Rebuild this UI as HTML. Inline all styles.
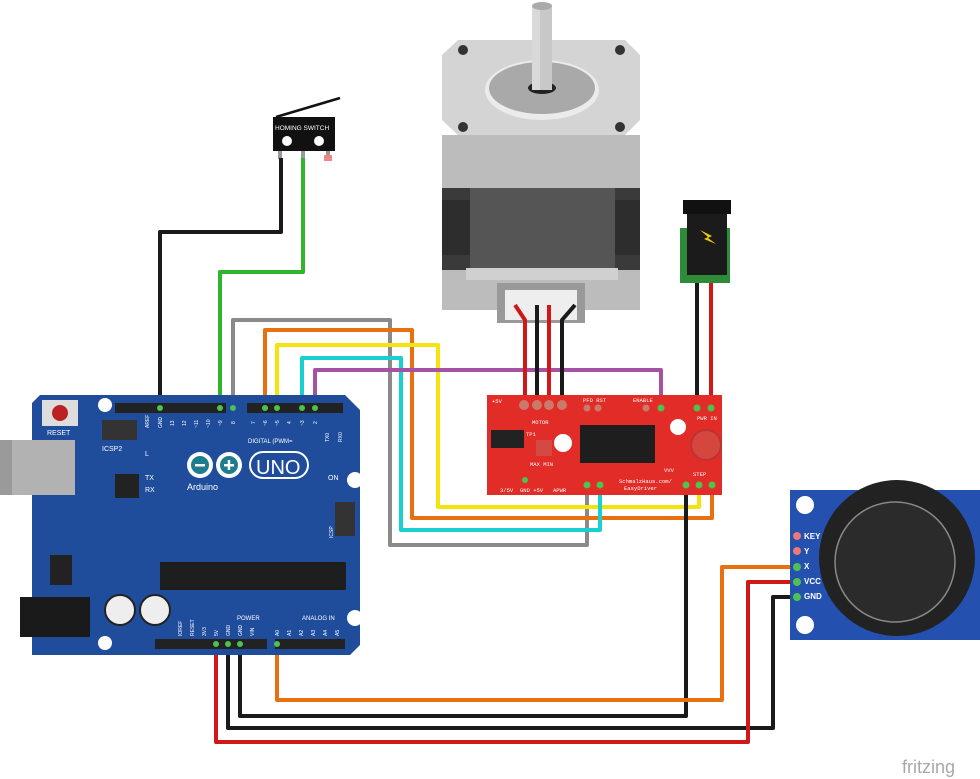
<!DOCTYPE html>
<html><head><meta charset="utf-8"><style>
body{margin:0;background:#fff;}
svg{display:block;font-family:"Liberation Sans",sans-serif;}
</style></head><body>
<svg width="980" height="779" viewBox="0 0 980 779" xmlns="http://www.w3.org/2000/svg">
<!-- Stepper motor -->
<g>
<path d="M458,40 L625,40 L640,55 L640,120 L625,135 L458,135 L442,120 L442,55Z" fill="#d4d4d4"/>
<path d="M442,135 L640,135 L640,310 L442,310Z" fill="#bcbcbc"/>
<rect x="442" y="188" width="198" height="82" fill="#3a3a3a"/>
<rect x="470" y="188" width="145" height="80" fill="#555"/>
<rect x="442" y="200" width="28" height="55" fill="#2d2d2d"/>
<rect x="615" y="200" width="25" height="55" fill="#2d2d2d"/>
<rect x="466" y="268" width="152" height="12" fill="#d0d0d0"/>
<ellipse cx="542" cy="90" rx="57" ry="30" fill="#ebebeb"/>
<ellipse cx="542" cy="88" rx="53" ry="26" fill="#a9a9a9"/>
<ellipse cx="542" cy="88" rx="14" ry="6" fill="#222"/>
<rect x="532" y="5" width="20" height="85" fill="#c8c8c8"/>
<rect x="532" y="5" width="8" height="85" fill="#d9d9d9"/>
<ellipse cx="542" cy="6" rx="10" ry="4" fill="#aaa"/>
<circle cx="463" cy="50" r="5" fill="#333"/><circle cx="620" cy="50" r="5" fill="#333"/>
<circle cx="463" cy="127" r="5" fill="#333"/><circle cx="620" cy="127" r="5" fill="#333"/>
<rect x="497" y="283" width="88" height="40" fill="#999"/>
<rect x="505" y="290" width="72" height="30" fill="#eee"/>
</g>
<!-- Switch -->
<rect x="273" y="117" width="62" height="34" fill="#111"/>
<line x1="276" y1="117" x2="340" y2="98" stroke="#111" stroke-width="2.5"/>
<text x="275" y="130" font-size="6.5" fill="#fff">HOMING SWITCH</text>
<circle cx="287" cy="141" r="5" fill="#fff"/><circle cx="319" cy="141" r="5" fill="#fff"/>
<rect x="278" y="151" width="4" height="8" fill="#999"/><rect x="301" y="151" width="4" height="8" fill="#999"/><rect x="326" y="151" width="4" height="8" fill="#999"/>
<rect x="324" y="155" width="8" height="6" fill="#e88"/>
<!-- Power jack -->
<rect x="680" y="228" width="50" height="55" fill="#2e8b3a"/>
<rect x="687" y="200" width="40" height="75" fill="#1b1b1b"/>
<rect x="683" y="200" width="48" height="14" fill="#111"/>
<path d="M700,230 L712,236 L708,238 L716,244 L704,239 L708,237Z" fill="#f2c811"/>
<!-- wires -->
<g fill="none" stroke-width="4" stroke-linejoin="round">
<polyline points="281,158 281,232 160,232 160,408" stroke="#1a1a1a"/>
<polyline points="303,158 303,272 220,272 220,408" stroke="#2fb52f"/>
<polyline points="233,408 233,320 390,320 390,545 587,545 587,488" stroke="#8a8a8a"/>
<polyline points="265,408 265,330 412,330 412,518 712,518 712,488" stroke="#e8700f"/>
<polyline points="277,408 277,345 438,345 438,507 699,507 699,488" stroke="#f5e30e"/>
<polyline points="302,408 302,358 401,358 401,530 600,530 600,488" stroke="#19d0d0"/>
<polyline points="315,408 315,370 661,370 661,405" stroke="#a552a5"/>
<polyline points="686,488 686,716 240,716 240,646" stroke="#1a1a1a"/>
<polyline points="797,597 773,597 773,728 228,728 228,646" stroke="#1a1a1a"/>
<polyline points="797,582 748,582 748,742 216,742 216,646" stroke="#d01818"/>
<polyline points="797,567 722,567 722,700 277,700 277,646" stroke="#e8700f"/>
<polyline points="515,305 525,320 525,405" stroke="#d01818"/>
<polyline points="537,305 537,405" stroke="#1a1a1a"/>
<polyline points="549,305 549,405" stroke="#d01818"/>
<polyline points="575,305 562,320 562,405" stroke="#1a1a1a"/>
<polyline points="697,283 697,405" stroke="#1a1a1a"/>
<polyline points="711,283 711,405" stroke="#d01818"/>
</g>
<!-- EasyDriver -->
<rect x="487" y="395" width="235" height="100" fill="#e22c27"/>
<g fill="#c97a6a"><circle cx="524" cy="405" r="5"/><circle cx="537" cy="405" r="5"/><circle cx="549" cy="405" r="5"/><circle cx="562" cy="405" r="5"/><circle cx="587" cy="408" r="3.5"/><circle cx="598" cy="408" r="3.5"/><circle cx="646" cy="408" r="3.5"/></g>
<g fill="#4ec24e"><circle cx="661" cy="408" r="3.5"/><circle cx="697" cy="408" r="3.5"/><circle cx="711" cy="408" r="3.5"/><circle cx="587" cy="485" r="3.5"/><circle cx="600" cy="485" r="3.5"/><circle cx="686" cy="485" r="3.5"/><circle cx="699" cy="485" r="3.5"/><circle cx="712" cy="485" r="3.5"/><circle cx="525" cy="480" r="3"/></g>
<rect x="491" y="430" width="33" height="18" fill="#222"/>
<rect x="580" y="425" width="75" height="38" fill="#1e1e1e"/>
<circle cx="563" cy="443" r="9" fill="#fff"/><circle cx="678" cy="427" r="8" fill="#fff"/>
<circle cx="706" cy="445" r="15" fill="#d5463f" stroke="#b33" stroke-width="2"/>
<rect x="536" y="440" width="16" height="16" fill="#d44a43"/>
<g font-size="5.5" fill="#fff" font-family="Liberation Mono,monospace">
<text x="532" y="424">MOTOR</text><text x="526" y="436">TP1</text><text x="583" y="402">PFD RST</text><text x="633" y="402">ENABLE</text>
<text x="697" y="420">PWR IN</text><text x="619" y="483">SchmalzHaus.com/</text><text x="624" y="490">EasyDriver</text><text x="693" y="476">STEP</text>
<text x="492" y="403">+5V</text><text x="500" y="492">3/5V</text><text x="520" y="492">GND +5V</text><text x="553" y="492">APWR</text>
<text x="530" y="466">MAX MIN</text><text x="664" y="472">VVV</text>
</g>
<!-- Arduino -->
<path d="M40,395 L345,395 L360,410 L360,645 L350,655 L32,655 L32,403Z" fill="#1f4d9c"/>
<rect x="0" y="440" width="75" height="55" fill="#b2b2b2"/><rect x="0" y="440" width="12" height="55" fill="#9a9a9a"/>
<rect x="42" y="400" width="36" height="26" fill="#ddd"/><circle cx="60" cy="413" r="8" fill="#b22"/>
<text x="47" y="435" font-size="7" fill="#fff">RESET</text>
<rect x="115" y="403" width="111" height="10" fill="#222"/><rect x="247" y="403" width="96" height="10" fill="#222"/>
<rect x="155" y="639" width="112" height="10" fill="#222"/><rect x="275" y="639" width="70" height="10" fill="#222"/>
<rect x="102" y="420" width="35" height="20" fill="#333"/>
<text x="102" y="451" font-size="7" fill="#fff">ICSP2</text>
<rect x="115" y="474" width="24" height="24" fill="#222"/>
<rect x="160" y="562" width="186" height="28" fill="#1e1e1e"/>
<rect x="335" y="502" width="20" height="34" fill="#333"/>
<rect x="50" y="555" width="22" height="30" fill="#222"/>
<rect x="20" y="597" width="70" height="40" fill="#1a1a1a"/>
<circle cx="120" cy="610" r="15" fill="#eee" stroke="#222" stroke-width="2"/>
<circle cx="155" cy="610" r="15" fill="#eee" stroke="#222" stroke-width="2"/>
<circle cx="105" cy="405" r="7" fill="#fff"/><circle cx="355" cy="480" r="8" fill="#fff"/><circle cx="355" cy="618" r="8" fill="#fff"/><circle cx="105" cy="643" r="7" fill="#fff"/>
<circle cx="200" cy="465" r="13" fill="#fff"/><circle cx="229" cy="465" r="13" fill="#fff"/>
<circle cx="200" cy="465" r="9" fill="#1d7d8e"/><circle cx="229" cy="465" r="9" fill="#1d7d8e"/>
<rect x="195" y="464" width="10" height="2.5" fill="#fff"/><rect x="224" y="464" width="10" height="2.5" fill="#fff"/><rect x="227.7" y="460" width="2.5" height="10" fill="#fff"/>
<rect x="250" y="452" width="58" height="26" rx="13" fill="none" stroke="#fff" stroke-width="2"/>
<text x="256" y="474" font-size="20" fill="#fff">UNO</text>
<text x="187" y="490" font-size="9" fill="#fff">Arduino</text>
<text x="248" y="443" font-size="6" fill="#fff">DIGITAL (PWM=</text>
<text x="145" y="456" font-size="7" fill="#fff">L</text><text x="145" y="480" font-size="7" fill="#fff">TX</text><text x="145" y="492" font-size="7" fill="#fff">RX</text>
<text x="328" y="480" font-size="7" fill="#fff">ON</text>
<text x="237" y="620" font-size="6" fill="#fff">POWER</text><text x="302" y="620" font-size="6" fill="#fff">ANALOG IN</text>
<g font-size="5" fill="#fff">
<text transform="translate(149,428) rotate(-90)">AREF</text><text transform="translate(162,428) rotate(-90)">GND</text>
<text transform="translate(174,426) rotate(-90)">13</text><text transform="translate(186,426) rotate(-90)">12</text>
<text transform="translate(198,428) rotate(-90)">~11</text><text transform="translate(210,428) rotate(-90)">~10</text>
<text transform="translate(222,426) rotate(-90)">~9</text><text transform="translate(235,424) rotate(-90)">8</text>
<text transform="translate(255,424) rotate(-90)">7</text><text transform="translate(267,426) rotate(-90)">~6</text>
<text transform="translate(279,426) rotate(-90)">~5</text><text transform="translate(291,424) rotate(-90)">4</text>
<text transform="translate(304,426) rotate(-90)">~3</text><text transform="translate(317,424) rotate(-90)">2</text>
<text transform="translate(329,442) rotate(-90)">TX0</text><text transform="translate(342,442) rotate(-90)">RX0</text>
<text transform="translate(182,636) rotate(-90)">IOREF</text><text transform="translate(194,636) rotate(-90)">RESET</text>
<text transform="translate(206,636) rotate(-90)">3V3</text><text transform="translate(218,636) rotate(-90)">5V</text>
<text transform="translate(230,636) rotate(-90)">GND</text><text transform="translate(242,636) rotate(-90)">GND</text>
<text transform="translate(254,636) rotate(-90)">VIN</text>
<text transform="translate(279,636) rotate(-90)">A0</text><text transform="translate(291,636) rotate(-90)">A1</text>
<text transform="translate(303,636) rotate(-90)">A2</text><text transform="translate(315,636) rotate(-90)">A3</text>
<text transform="translate(327,636) rotate(-90)">A4</text><text transform="translate(339,636) rotate(-90)">A5</text>
<text transform="translate(333,538) rotate(-90)">ICSP</text>
</g>
<g fill="#4ec24e"><circle cx="160" cy="408" r="3"/><circle cx="220" cy="408" r="3"/><circle cx="233" cy="408" r="3"/><circle cx="265" cy="408" r="3"/><circle cx="277" cy="408" r="3"/><circle cx="302" cy="408" r="3"/><circle cx="315" cy="408" r="3"/><circle cx="216" cy="644" r="3"/><circle cx="228" cy="644" r="3"/><circle cx="240" cy="644" r="3"/><circle cx="277" cy="644" r="3"/></g>
<!-- Joystick -->
<rect x="790" y="490" width="190" height="150" fill="#2450b0"/>
<circle cx="805" cy="505" r="9" fill="#fff"/><circle cx="805" cy="625" r="9" fill="#fff"/>
<circle cx="897" cy="558" r="78" fill="#222"/>
<circle cx="895" cy="562" r="60" fill="#2b2b2b" stroke="#888" stroke-width="1.5"/>
<g font-size="8" fill="#fff" font-weight="bold"><text x="804" y="539">KEY</text><text x="804" y="554">Y</text><text x="804" y="569">X</text><text x="804" y="584">VCC</text><text x="804" y="599">GND</text></g>
<circle cx="797" cy="536" r="4" fill="#e77"/><circle cx="797" cy="551" r="4" fill="#e77"/>
<circle cx="797" cy="567" r="4" fill="#4ec24e"/><circle cx="797" cy="582" r="4" fill="#4ec24e"/><circle cx="797" cy="597" r="4" fill="#4ec24e"/>
<text x="902" y="773" font-size="18" fill="#a8a8a8">fritzing</text>
</svg>
</body></html>
